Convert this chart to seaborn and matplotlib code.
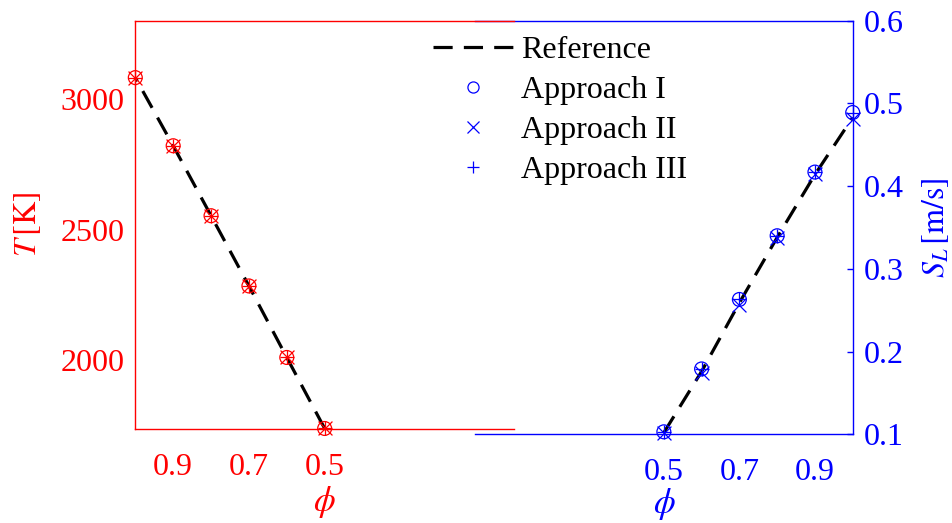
import numpy as np
import pandas as pd
import seaborn as sns
import matplotlib.pyplot as plt
from matplotlib.lines import Line2D

sns.set_style("white")
plt.rcParams['font.family'] = ['Liberation Serif', 'DejaVu Serif']
plt.rcParams['mathtext.fontset'] = 'stix'
plt.rcParams['text.color'] = 'black'

# Temperature vs equivalence ratio (left panel)
phi = [1.0, 0.9, 0.8, 0.7, 0.6, 0.5]
T_ref = [3082, 2821, 2553, 2284, 2010, 1738]
T_app1 = [3082, 2821, 2553, 2284, 2010, 1738]
T_app2 = [3082, 2821, 2553, 2284, 2010, 1738]
T_app3 = [3082, 2821, 2553, 2284, 2010, 1738]

# Laminar flame speed vs equivalence ratio (right panel)
SL_ref = [0.483, 0.414, 0.338, 0.259, 0.176, 0.102]
SL_app1 = [0.489, 0.417, 0.340, 0.263, 0.179, 0.103]
SL_app2 = [0.481, 0.415, 0.337, 0.256, 0.174, 0.101]
SL_app3 = [0.489, 0.417, 0.340, 0.263, 0.179, 0.103]

left_xticks = [0.9, 0.7, 0.5]
right_xticks = [0.5, 0.7, 0.9]
left_yticks = [2000, 2500, 3000]
right_yticks = [0.1, 0.2, 0.3, 0.4, 0.5, 0.6]

df = pd.DataFrame({'phi': phi, 'T_ref': T_ref, 'T1': T_app1, 'T2': T_app2, 'T3': T_app3,
                   'S_ref': SL_ref, 'S1': SL_app1, 'S2': SL_app2, 'S3': SL_app3})

W, H = 953, 523
fig = plt.figure(figsize=(9.53, 5.23), dpi=100)
ax1 = fig.add_axes([135.3 / W, (H - 429) / H, (514 - 135.3) / W, (429 - 20.7) / H])
ax2 = fig.add_axes([475 / W, (H - 434.3) / H, (852.7 - 475) / W, (434.3 - 20.7) / H])
for ax in (ax1, ax2):
    ax.patch.set_visible(False)
ax1.set_zorder(2)

fs = 23
RED, BLUE = '#ff0000', '#0000ff'
ms = 100
mk = dict(linewidth=0.9, zorder=3, legend=False, clip_on=False)


def draw(ax, ycol, cols, color):
    sns.lineplot(data=df, x='phi', y=ycol, ax=ax, color='black', linewidth=2.3,
                 dashes=False, legend=False, zorder=2).lines[-1].set_dashes((6, 3.5))
    sns.scatterplot(data=df, x='phi', y=cols[0], ax=ax, marker='o', s=ms,
                    facecolor='none', edgecolor=color, **mk)
    sns.scatterplot(data=df, x='phi', y=cols[1], ax=ax, marker='x', s=ms, color=color, **mk)
    sns.scatterplot(data=df, x='phi', y=cols[2], ax=ax, marker='+', s=ms, color=color, **mk)


draw(ax1, 'T_ref', ['T1', 'T2', 'T3'], RED)
draw(ax2, 'S_ref', ['S1', 'S2', 'S3'], BLUE)

# left axes
ax1.set_xlim(1.0, 0.0)
ax1.set_ylim(1736, 3300)
ax1.set_xticks(left_xticks)
ax1.set_xticklabels([f'{v:.1f}' for v in left_xticks])
ax1.set_yticks(left_yticks)
ax1.spines['right'].set_visible(False)
for s in ('left', 'top', 'bottom'):
    ax1.spines[s].set_color(RED)
    ax1.spines[s].set_linewidth(1.0)
ax1.tick_params(axis='both', direction='in', length=4, width=1.0, colors=RED, labelsize=fs)
ax1.tick_params(axis='x', pad=17)
ax1.tick_params(axis='y', pad=8)
ax1.set_xlabel(r'$\phi$', color=RED, fontsize=fs + 2, labelpad=2)
ax1.set_ylabel(r'$T\,[\mathrm{K}]$', color=RED, fontsize=fs, labelpad=12)

# right axes
ax2.set_xlim(0.0, 1.0)
ax2.set_ylim(0.1, 0.6)
ax2.set_xticks(right_xticks)
ax2.set_xticklabels([f'{v:.1f}' for v in right_xticks])
ax2.set_yticks(right_yticks)
ax2.set_yticklabels([f'{v:.1f}' for v in right_yticks])
ax2.yaxis.tick_right()
ax2.yaxis.set_label_position('right')
ax2.spines['left'].set_visible(False)
for s in ('right', 'top', 'bottom'):
    ax2.spines[s].set_color(BLUE)
    ax2.spines[s].set_linewidth(1.0)
ax2.tick_params(axis='both', direction='in', length=4, width=1.0, colors=BLUE, labelsize=fs)
ax2.tick_params(axis='x', pad=17)
ax2.tick_params(axis='y', pad=8)
ax2.set_xlabel(r'$\phi$', color=BLUE, fontsize=fs + 2, labelpad=-1)
ax2.set_ylabel(r'$S_L\,[\mathrm{m/s}]$', color=BLUE, fontsize=fs, labelpad=12)

handles = [
    Line2D([], [], color='black', linewidth=2.3, dashes=(6, 3.5)),
    Line2D([], [], color=BLUE, marker='o', markerfacecolor='none', linestyle='', markersize=8, markeredgewidth=0.9),
    Line2D([], [], color=BLUE, marker='x', linestyle='', markersize=8, markeredgewidth=0.9),
    Line2D([], [], color=BLUE, marker='+', linestyle='', markersize=8, markeredgewidth=0.9),
]
labels = ['Reference', 'Approach I', 'Approach II', 'Approach III']
fig.legend(handles, labels, loc='upper left', bbox_to_anchor=(433 / W, 1 - 36 / H),
           frameon=False, fontsize=fs, handlelength=2.5, handletextpad=0.25,
           labelspacing=0.33, borderpad=0, borderaxespad=0)

fig.savefig('out.png', dpi=100)
